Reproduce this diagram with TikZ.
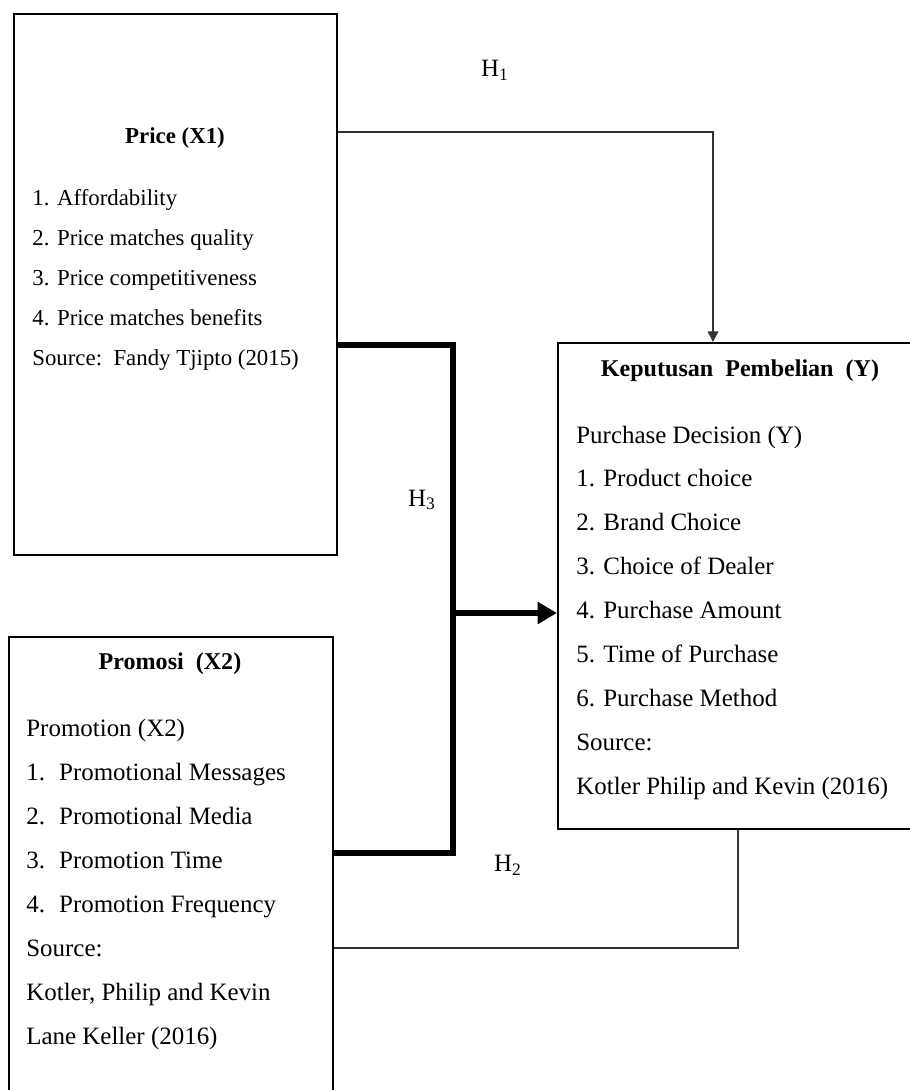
\documentclass[tikz,border=0pt]{standalone}
\usepackage{fontspec}
\setmainfont{Liberation Serif}
\usetikzlibrary{arrows.meta}
\newcommand{\itemno}[1]{\makebox[18.7pt][l]{#1}}

\begin{document}
\begin{tikzpicture}[x=0.02cm,y=-0.02cm,
  box node/.style={draw,line width=1.1pt,anchor=north west,inner sep=0pt},
  title text/.style={anchor=base,inner sep=0pt,font=\fontsize{13.7}{16}\selectfont\bfseries},
  item text/.style={anchor=base west,inner sep=0pt,font=\fontsize{14.2}{17}\selectfont},
  small item/.style={anchor=base west,inner sep=0pt,font=\fontsize{13}{16}\selectfont},
  hyp text/.style={inner sep=0pt,font=\fontsize{14.2}{17}\selectfont},
  thin link/.style={draw=black!80,line width=0.8pt},
  thick link/.style={draw=black,line width=3.4pt,line join=miter}]

\useasboundingbox (0,0) rectangle (910,1090);
\clip (0,0) rectangle (910,1090);

\node[box node,minimum width=6.46cm,minimum height=10.82cm] (price) at (13,13) {};
\node[box node,minimum width=7.6cm,minimum height=9.72cm] (dec) at (557,342) {};
\node[box node,minimum width=6.48cm,minimum height=9.6cm] (promo) at (8,636) {};

\node[title text,font=\fontsize{13}{16}\selectfont\bfseries] (pricetitle) at (175,143) {Price (X1)};
\node[title text] (dectitle) at (740,376) {Keputusan\ \ Pembelian\ \ (Y)};
\node[title text] (promotitle) at (170,669) {Promosi\ \ (X2)};

\foreach \txt [count=\i] in {1. Affordability, 2. Price matches quality,
    3. Price competitiveness, 4. Price matches benefits, Source:\ \ Fandy Tjipto (2015)}
  \node[small item] (price\i) at (32,{205+40*(\i-1)}) {\txt};

\foreach \txt [count=\i] in {Purchase Decision (Y), 1. Product choice, 2. Brand Choice,
    3. Choice of Dealer, 4. Purchase Amount, 5. Time of Purchase, 6. Purchase Method,
    Source:, Kotler Philip and Kevin (2016)}
  \node[item text] (dec\i) at (576,{443+43.9*(\i-1)}) {\txt};

\foreach \txt [count=\i] in {Promotion (X2), \itemno{1.}Promotional Messages,
    \itemno{2.}Promotional Media, \itemno{3.}Promotion Time, \itemno{4.}Promotion Frequency,
    Source:, {Kotler, Philip and Kevin}, Lane Keller (2016)}
  \node[item text] (promo\i) at (26,{736+44.1*(\i-1)}) {\txt};

\coordinate (h1) at (713,132);
\coordinate (h3top) at (453,345);
\coordinate (h3mid) at (453,613);
\coordinate (h3bot) at (453,853);
\coordinate (h2) at (738,948);

\draw[thin link,-{Triangle[length=6pt,width=6pt]}] (price.east |- h1) -| (h1 |- dec.north);
\draw[thick link] (price.east |- h3top) -- (h3top) -- (h3bot) -- (promo.east |- h3bot);
\draw[thick link,-{Triangle[length=11pt,width=12pt]}] (h3mid) -- (dec.west |- h3mid);
\draw[thin link] (promo.east |- h2) -| (h2 |- dec.south);

\node[hyp text] (hyp1) at (495,70) {H\textsubscript{1}};
\node[hyp text] (hyp3) at (422,500) {H\textsubscript{3}};
\node[hyp text] (hyp2) at (508,865) {H\textsubscript{2}};
\end{tikzpicture}
\end{document}
